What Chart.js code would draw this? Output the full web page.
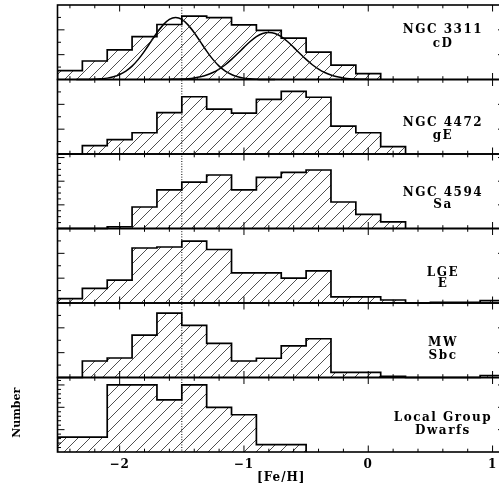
<!DOCTYPE html>
<html><head><meta charset="utf-8">
<script src="https://cdn.jsdelivr.net/npm/chart.js@4.4.1/dist/chart.umd.min.js"></script>
<style>html,body{margin:0;padding:0;background:#fff;overflow:hidden;width:499px;height:487px}canvas{display:block}</style>
</head><body>
<canvas id="c" width="510" height="487"></canvas>
<script>
// ---------- data ----------
const binEdges = [-2.5,-2.3,-2.1,-1.9,-1.7,-1.5,-1.3,-1.1,-0.9,-0.7,-0.5,-0.3,-0.1,0.1,0.3,0.5,0.7,0.9,1.1];
const panelNames = ['NGC 3311','NGC 4472','NGC 4594','LGE','MW','Local Group'];
const panelTypes = ['cD','gE','Sa','E','Sbc','Dwarfs'];
// histogram heights per bin (starting at binEdges[0]), in each panel's own units
const ngc3311 = [0.72,1.49,2.38,3.46,4.43,5.11,4.99,4.40,3.95,3.34,2.21,1.15,0.48];
const ngc4472 = [0,0.68,1.15,1.71,3.33,4.61,3.62,3.30,4.40,5.05,4.57,2.25,1.71,0.60];
const ngc4594 = [0,0,0.30,3.64,6.54,7.83,9.05,6.54,8.66,9.50,9.89,4.48,2.40,1.13];
const lge     = [0.36,1.18,1.85,4.43,4.51,4.99,4.31,2.42,2.42,2.01,2.58,0.50,0.50,0.24,0,0.06,0.06,0.19];
const mw      = [0,1.33,1.57,3.42,5.19,4.19,2.75,1.33,1.55,2.54,3.12,0.42,0.42,0.10,0,0,0,0.16];
const dwarfs  = [2,2,9,9,7,9,6,5,1,1];
// two fitted components over NGC 3311
const gaussX1 = [-2.35,-2.30,-2.25,-2.20,-2.15,-2.10,-2.05,-2.00,-1.95,-1.90,-1.85,-1.80,-1.75,-1.70,-1.65,-1.60,-1.55,-1.50,-1.45,-1.40,-1.35,-1.30,-1.25,-1.20,-1.15,-1.10,-1.05,-1.00,-0.95,-0.90,-0.85,-0.80,-0.75];
const gaussY1 = [0.00,0.00,0.01,0.03,0.06,0.11,0.22,0.40,0.68,1.08,1.62,2.29,3.03,3.77,4.40,4.84,4.99,4.84,4.40,3.77,3.03,2.29,1.62,1.08,0.68,0.40,0.22,0.11,0.06,0.03,0.01,0.00,0.00];
const gaussX2 = [-1.60,-1.55,-1.50,-1.45,-1.40,-1.35,-1.30,-1.25,-1.20,-1.15,-1.10,-1.05,-1.00,-0.95,-0.90,-0.85,-0.80,-0.75,-0.70,-0.65,-0.60,-0.55,-0.50,-0.45,-0.40,-0.35,-0.30,-0.25,-0.20,-0.15,-0.10,-0.05,0.00];
const gaussY2 = [0.01,0.02,0.04,0.07,0.13,0.22,0.36,0.56,0.84,1.19,1.62,2.09,2.59,3.06,3.45,3.70,3.78,3.70,3.45,3.06,2.59,2.09,1.62,1.19,0.84,0.56,0.36,0.22,0.13,0.07,0.04,0.02,0.01];
const markerFeH = -1.5;
// axes
const xRange = [-2.5, 1.1];
const xMajorTicks = [-2,-1,0,1];
const xTickLabels = ['\u22122','\u22121','0','1'];
const xMinorTicks = [-2.4,-2.2,-1.8,-1.6,-1.4,-1.2,-0.8,-0.6,-0.4,-0.2,0.2,0.4,0.6,0.8];
const panelMax = [6,6,12.6,6,6,10];
const yMajorTicks = [[2,4],[2,4],[4,8,12],[2,4],[2,4],[3,6,9]];
const yMinorTicks = [[1,3,5],[1,3,5],[1,2,3,5,6,7,9,10,11],[1,3,5],[1,3,5],[0.6,1.2,1.8,2.4,3.6,4.2,4.8,5.4,6.6,7.2,7.8,8.4,9.6]];
const xTitle = '[Fe/H]';
const yTitle = 'Number';

// ---------- style / layout ----------
const FONT = "'DejaVu Serif', serif";
const labelOffsets = [[25,38.5],[43.8,56],[39.3,51],[44.8,55.5],[40.3,53],[40.8,53]];
const labelX = 443;

function makeHatch(){
  const c = document.createElement('canvas'); c.width = 12; c.height = 12;
  const g = c.getContext('2d');
  g.strokeStyle = '#222'; g.lineWidth = 0.8;
  for (const o of [-12,0,12]) { g.beginPath(); g.moveTo(o,12); g.lineTo(o+12,0); g.stroke(); }
  return g.createPattern(c,'repeat');
}
const hatch = makeHatch();

const series = [ngc3311, ngc4472, ngc4594, lge, mw, dwarfs];
function histPoints(vals){
  const pts = [{x: binEdges[0], y: 0}];
  vals.forEach((v,i) => pts.push({x: binEdges[i], y: v}));
  pts.push({x: binEdges[vals.length], y: 0});
  return pts;
}
const datasets = series.map((vals,k) => ({
  data: histPoints(vals), yAxisID: 'y'+k, stepped: 'before',
  borderColor: '#000', borderWidth: 1.7, backgroundColor: hatch,
  fill: {value: 0}, pointRadius: 0
}));
datasets.push({data: gaussX1.map((x,i)=>({x, y: gaussY1[i]})), yAxisID:'y0', borderColor:'#000', borderWidth:1.5, pointRadius:0, fill:false, cubicInterpolationMode:'monotone'});
datasets.push({data: gaussX2.map((x,i)=>({x, y: gaussY2[i]})), yAxisID:'y0', borderColor:'#000', borderWidth:1.5, pointRadius:0, fill:false, cubicInterpolationMode:'monotone'});

const scales = {
  x: {
    type:'linear', min: xRange[0], max: xRange[1], position:'bottom',
    grid:{display:false, drawTicks:false}, border:{display:false},
    afterBuildTicks: s => { s.ticks = xMajorTicks.map(v => ({value: v})); },
    afterFit: s => { s.height = 35; },
    ticks:{ callback: v => xTickLabels[xMajorTicks.indexOf(v)], color:'#000', padding: 6,
            font:{family: FONT, weight:'bold', size: 12}, maxRotation:0, autoSkip:false },
    title:{ display:true, text: xTitle, color:'#000', font:{family: FONT, weight:'bold', size: 12}, padding:{top:2,bottom:2} }
  }
};
panelMax.forEach((m,k) => {
  scales['y'+k] = { type:'linear', display:false, min: -(5-k)*m, max: (k+1)*m };
});

const framePlugin = {
  id:'frame',
  beforeDraw(chart){ chart.ctx.letterSpacing = '1px'; },
  beforeDatasetsDraw(chart){ chart.ctx.letterSpacing = '0px'; },
  afterDatasetsDraw(chart){
    const ctx = chart.ctx, xs = chart.scales.x, {left:L, right:R} = chart.chartArea;
    ctx.save();
    ctx.strokeStyle = '#000';
    // dotted marker
    const xm = xs.getPixelForValue(markerFeH);
    ctx.lineWidth = 1; ctx.setLineDash([1,1.6]);
    ctx.beginPath(); ctx.moveTo(xm, chart.chartArea.top); ctx.lineTo(xm, chart.chartArea.bottom); ctx.stroke();
    ctx.setLineDash([]);
    panelMax.forEach((m,k) => {
      const ys = chart.scales['y'+k];
      const top = ys.getPixelForValue(m), bot = ys.getPixelForValue(0);
      ctx.lineWidth = 1;
      const xt = (vals,len) => vals.forEach(v => {
        const p = xs.getPixelForValue(v);
        ctx.beginPath(); ctx.moveTo(p, bot); ctx.lineTo(p, bot-len); ctx.moveTo(p, top); ctx.lineTo(p, top+len); ctx.stroke();
      });
      xt(xMajorTicks, 6.5); xt(xMinorTicks, 3.3);
      const yt = (vals,len) => vals.forEach(v => {
        const p = ys.getPixelForValue(v);
        ctx.beginPath(); ctx.moveTo(L, p); ctx.lineTo(L+len, p); ctx.moveTo(R, p); ctx.lineTo(R-len, p); ctx.stroke();
      });
      yt(yMajorTicks[k], 7); yt(yMinorTicks[k], 3.5);
      ctx.lineWidth = 1.6;
      ctx.strokeRect(L, top, R-L, bot-top);
      // labels
      ctx.fillStyle = '#000'; ctx.textAlign = 'center'; ctx.textBaseline = 'middle';
      ctx.font = "bold 12px " + FONT; ctx.letterSpacing = '1.5px';
      ctx.fillText(panelNames[k], labelX, top + labelOffsets[k][0]);
      ctx.fillText(panelTypes[k], labelX, top + labelOffsets[k][1]);
      ctx.letterSpacing = '0px';
      if (k === panelMax.length-1) {
        ctx.font = "bold 11px " + FONT;
        ctx.save(); ctx.translate(17.5, (top+bot)/2 - 2); ctx.rotate(-Math.PI/2);
        ctx.fillText(yTitle, 0, 0); ctx.restore();
      }
    });
    ctx.restore();
  }
};

new Chart(document.getElementById('c'), {
  type:'line',
  data:{datasets},
  options:{
    responsive:false, animation:false, devicePixelRatio:1,
    layout:{padding:{left:57.5, top:5, right:5, bottom:0}},
    plugins:{legend:{display:false}, tooltip:{enabled:false}},
    scales
  },
  plugins:[framePlugin]
});
</script>
</body></html>
